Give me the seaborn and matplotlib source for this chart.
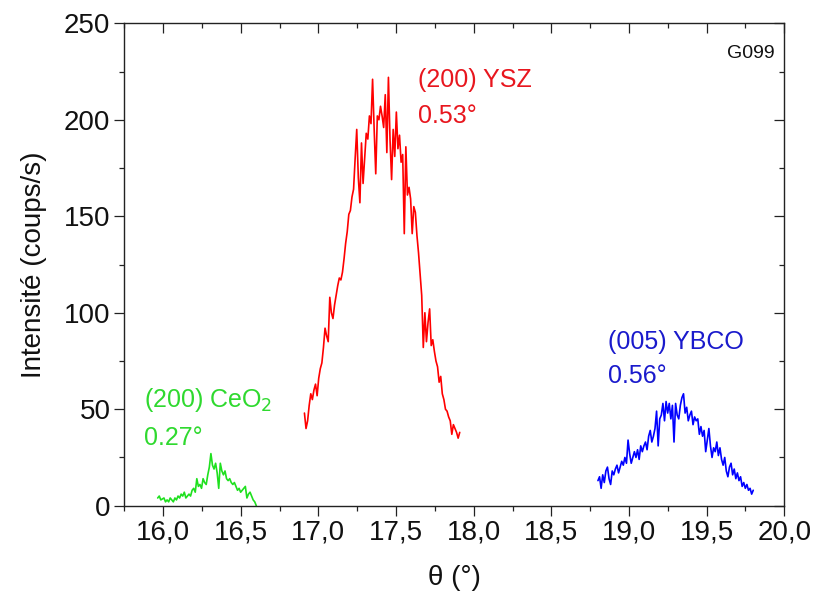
import numpy as np
import pandas as pd
import matplotlib
matplotlib.use("Agg")
import matplotlib.pyplot as plt
import seaborn as sns
from matplotlib.ticker import MultipleLocator, FuncFormatter

# ---- rocking-curve scans (theta in degrees, intensity in counts/s) ----
ceo2_theta_range = (15.965, 16.60)
ceo2_counts = [4, 5, 3, 3.5, 4, 2, 3, 2, 4, 3, 2, 4, 3, 5, 4, 6, 5, 7, 4, 5,
               6, 5, 8, 9, 7, 14, 10, 11, 9, 14, 12, 11, 16, 20, 27, 21, 19, 22, 17, 9,
               22, 18, 16, 18, 14, 13, 14, 12, 11, 12, 10, 8, 9, 7, 8, 9, 10, 4, 6, 7,
               5, 3, 2, 0]

ysz_theta_range = (16.91, 17.91)
ysz_counts = [48, 40, 44, 52, 58, 55, 60, 63, 57, 66, 71, 74, 82, 92, 88, 85, 108, 100, 97, 104,
              109, 114, 118, 117, 121, 128, 136, 142, 151, 153, 160, 164, 180, 195, 170, 157, 188, 167, 180, 193,
              190, 202, 198, 221, 195, 172, 202, 200, 207, 202, 196, 213, 183, 222, 190, 169, 195, 181, 204, 185,
              192, 178, 182, 141, 186, 161, 165, 159, 141, 155, 152, 140, 131, 120, 109, 82, 100, 85, 95, 102,
              83, 86, 80, 75, 72, 64, 67, 58, 55, 50, 49, 46, 44, 37, 42, 40, 38, 35, 38]

ybco_theta_range = (18.80, 19.80)
ybco_counts = [13, 15, 9, 16, 12, 18, 20, 14, 11, 18, 16, 19, 21, 17, 20, 23, 21, 25, 22, 34,
               27, 22, 25, 28, 25, 29, 24, 31, 28, 31, 33, 29, 36, 39, 33, 36, 40, 49, 31, 45,
               47, 53, 44, 54, 48, 53, 45, 52, 33, 53, 47, 45, 52, 56, 58, 48, 51, 44, 47, 49,
               42, 46, 44, 45, 37, 41, 36, 39, 28, 34, 40, 31, 25, 30, 28, 33, 26, 30, 24, 21,
               25, 18, 15, 20, 22, 16, 19, 14, 17, 13, 15, 10, 12, 9, 11, 8, 9, 6, 8]

peak_labels = ["(200) CeO$_2$", "(200) YSZ", "(005) YBCO"]
fwhm_labels = ["0.27°", "0.53°", "0.56°"]
sample_id = "G099"

x_ticks = [16.0, 16.5, 17.0, 17.5, 18.0, 18.5, 19.0, 19.5, 20.0]
y_ticks = [0, 50, 100, 150, 200, 250]


def scan(rng, counts, name):
    theta = np.linspace(rng[0], rng[1], len(counts))
    return pd.DataFrame({"theta": theta, "counts": counts, "peak": name})


df = pd.concat([
    scan(ceo2_theta_range, ceo2_counts, "CeO2"),
    scan(ysz_theta_range, ysz_counts, "YSZ"),
    scan(ybco_theta_range, ybco_counts, "YBCO"),
], ignore_index=True)

sns.set_theme(style="ticks")
plt.rcParams["font.family"] = ["Liberation Sans", "DejaVu Sans"]

line_colors = {"CeO2": "#1fe01f", "YSZ": "#ff0000", "YBCO": "#0000ff"}
text_colors = {"CeO2": "#2fd92f", "YSZ": "#e8161e", "YBCO": "#1a1acc"}

fig = plt.figure(figsize=(8.17, 5.97), dpi=100)
ax = fig.add_axes([124.3 / 817, 1 - 505.7 / 597, (784.3 - 124.3) / 817, (505.7 - 23.3) / 597])

sns.lineplot(data=df, x="theta", y="counts", hue="peak", palette=line_colors,
             estimator=None, sort=False, linewidth=1.2, legend=False, ax=ax)

ax.set_xlim(15.75, 20.0)
ax.set_ylim(0, 250)
ax.set_xticks(x_ticks)
ax.set_yticks(y_ticks)
ax.xaxis.set_minor_locator(MultipleLocator(0.25))
ax.yaxis.set_minor_locator(MultipleLocator(25))
ax.xaxis.set_major_formatter(FuncFormatter(lambda v, p: f"{v:.1f}".replace(".", ",")))

for side in ["left", "bottom", "top", "right"]:
    ax.spines[side].set_visible(True)
    ax.spines[side].set_linewidth(1.0)
    ax.spines[side].set_color("#222222")

ax.tick_params(axis="both", which="major", direction="out", length=7, width=0.9,
               labelsize=20, colors="#222222", labelcolor="#111111", pad=3)
ax.tick_params(axis="both", which="minor", direction="out", length=3.5, width=0.9, colors="#222222")
ax.tick_params(axis="x", which="both", top=False)
ax.tick_params(axis="y", which="both", right=False)

# mirrored ticks on top/right point inwards
ax2x = ax.secondary_xaxis("top")
ax2x.set_xticks(x_ticks)
ax2x.xaxis.set_minor_locator(MultipleLocator(0.25))
ax2x.tick_params(which="major", direction="in", length=7, width=0.9, labeltop=False, colors="#222222")
ax2x.tick_params(which="minor", direction="in", length=3.5, width=0.9, colors="#222222")
ax2x.spines["top"].set_visible(False)
ax2y = ax.secondary_yaxis("right")
ax2y.set_yticks(y_ticks)
ax2y.yaxis.set_minor_locator(MultipleLocator(25))
ax2y.tick_params(which="major", direction="in", length=7, width=0.9, labelright=False, colors="#222222")
ax2y.tick_params(which="minor", direction="in", length=3.5, width=0.9, colors="#222222")
ax2y.spines["right"].set_visible(False)

ax.set_xlabel("θ (°)", fontsize=20, color="#111111", labelpad=14)
ax.set_ylabel("Intensité (coups/s)", fontsize=20, color="#111111", labelpad=12)

# peak annotations: reflection and FWHM
label_pos = {"CeO2": (15.878, 51.3, 31.5), "YSZ": (17.640, 217.1, 198.1), "YBCO": (18.862, 81.2, 63.4)}
for key, name, fwhm in zip(["CeO2", "YSZ", "YBCO"], peak_labels, fwhm_labels):
    x0, y1, y2 = label_pos[key]
    ax.text(x0, y1, name, color=text_colors[key], fontsize=18, ha="left", va="baseline")
    ax.text(x0, y2, fwhm, color=text_colors[key], fontsize=18, ha="left", va="baseline")

ax.text(0.985, 0.955, sample_id, transform=ax.transAxes, fontsize=14,
        ha="right", va="top", color="#111111")

fig.savefig("out.png", dpi=100)
